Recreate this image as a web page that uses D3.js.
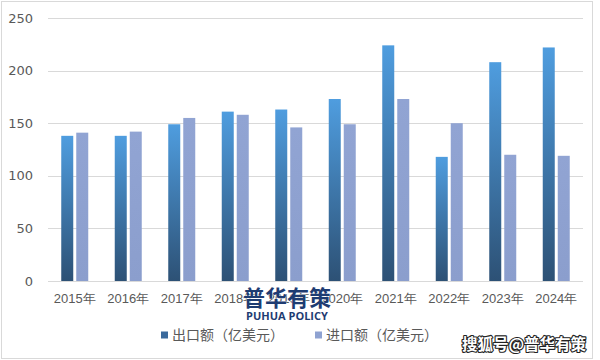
<!DOCTYPE html>
<html>
<head>
<meta charset="utf-8">
<script src="https://cdn.jsdelivr.net/npm/d3@7"></script>
<style>
  html, body { margin: 0; padding: 0; background: #fff; }
  svg { display: block; font-family: "Microsoft YaHei", "Noto Sans CJK SC", "DejaVu Sans", sans-serif; }
</style>
</head>
<body>
<svg id="chart" width="600" height="360"></svg>
<script>
const categories = ["2015年","2016年","2017年","2018年","2019年","2020年","2021年","2022年","2023年","2024年"];
const seriesNames = ["出口额（亿美元）","进口额（亿美元）"];
const exportValues = [138, 138, 149, 161, 163, 173, 224, 118, 208, 222];
const importValues = [141, 142, 155, 158, 146, 149, 173, 150, 120, 119];
const yTicks = [0, 50, 100, 150, 200, 250];

const svg = d3.select("#chart");
const plot = { left: 48, right: 583, top: 18, bottom: 281 };

// outer frame
svg.append("rect").attr("x", 1.5).attr("y", 1.5).attr("width", 591).attr("height", 357)
  .attr("fill", "#fff").attr("stroke", "#d9d9d9").attr("stroke-width", 1);

const defs = svg.append("defs");
const gExp = defs.append("linearGradient").attr("id", "gExp")
  .attr("x1", 0).attr("y1", 0).attr("x2", 0).attr("y2", 1);
gExp.append("stop").attr("offset", "0%").attr("stop-color", "#4f9ddf");
gExp.append("stop").attr("offset", "100%").attr("stop-color", "#2d5175");
const gImp = defs.append("linearGradient").attr("id", "gImp")
  .attr("x1", 0).attr("y1", 0).attr("x2", 0).attr("y2", 1);
gImp.append("stop").attr("offset", "0%").attr("stop-color", "#91a4d3");
gImp.append("stop").attr("offset", "100%").attr("stop-color", "#8b9ecd");

const x0 = d3.scaleBand().domain(categories).range([plot.left, plot.right]).paddingInner(0).paddingOuter(0);
const x1 = d3.scaleBand().domain(seriesNames).range([-13.5, 13.5]).paddingInner(0.2);
const y = d3.scaleLinear().domain([0, 250]).range([plot.bottom, plot.top]);

// gridlines
svg.append("g").selectAll("line").data(yTicks).join("line")
  .attr("x1", plot.left).attr("x2", plot.right)
  .attr("y1", d => Math.round(y(d)) + 0.5).attr("y2", d => Math.round(y(d)) + 0.5)
  .attr("stroke", "#d9d9d9").attr("stroke-width", 1);

// y axis labels
const yAxis = d3.axisLeft(y).tickValues(yTicks).tickSize(0).tickPadding(0);
const yg = svg.append("g").attr("transform", `translate(33,0)`).call(yAxis);
yg.select(".domain").remove();
yg.selectAll("text").attr("font-size", 13).attr("fill", "#595959")
  .attr("font-family", "'DejaVu Sans', sans-serif");

// bars
const data = categories.map((c, i) => ({ cat: c, vals: [exportValues[i], importValues[i]] }));
const fills = ["url(#gExp)", "url(#gImp)"];
const groups = svg.append("g").selectAll("g").data(data).join("g")
  .attr("transform", d => `translate(${x0(d.cat) + x0.bandwidth() / 2},0)`);
groups.selectAll("rect").data(d => d.vals.map((v, k) => ({ v, k }))).join("rect")
  .attr("x", d => x1(seriesNames[d.k]))
  .attr("width", x1.bandwidth())
  .attr("y", d => y(d.v))
  .attr("height", d => y(0) - y(d.v))
  .attr("fill", d => fills[d.k]);

// x axis labels
const xAxis = d3.axisBottom(x0).tickSize(0).tickPadding(0);
const xg = svg.append("g").attr("transform", `translate(0,${plot.bottom + 13})`).call(xAxis);
xg.select(".domain").remove();
xg.selectAll("text").attr("font-size", 13).attr("fill", "#595959");

// watermark logo
svg.append("text").attr("x", 287).attr("y", 306).attr("text-anchor", "middle")
  .attr("font-size", 22).attr("font-weight", "bold").attr("fill", "#1e3c72")
  .attr("stroke", "#fff").attr("stroke-width", 0.6).attr("paint-order", "stroke")
  .text("普华有策");
svg.append("text").attr("x", 287).attr("y", 320).attr("text-anchor", "middle")
  .attr("font-size", 11).attr("font-weight", "bold").attr("fill", "#1e3c72")
  .attr("font-family", "'Open Sans', 'DejaVu Sans', sans-serif")
  .text("PUHUA POLICY");

// legend
const legendX = [161, 315];
const leg = svg.append("g").selectAll("g").data(seriesNames).join("g")
  .attr("transform", (d, i) => `translate(${legendX[i]},335)`);
leg.append("rect").attr("x", 0).attr("y", -3.5).attr("width", 7).attr("height", 7)
  .attr("fill", (d, i) => i === 0 ? "#3a6a9c" : "#8fa2d1");
leg.append("text").attr("x", 11).attr("y", 0).attr("dy", "0.35em")
  .attr("font-size", 14).attr("fill", "#595959").text(d => d);

// sohu watermark
svg.append("text").attr("x", 524).attr("y", 350).attr("text-anchor", "middle")
  .attr("font-size", 15.5).attr("font-weight", "bold").attr("fill", "#fff")
  .attr("stroke", "#222").attr("stroke-width", 2.2).attr("paint-order", "stroke")
  .attr("stroke-linejoin", "round")
  .text("搜狐号@普华有策");
</script>
</body>
</html>
